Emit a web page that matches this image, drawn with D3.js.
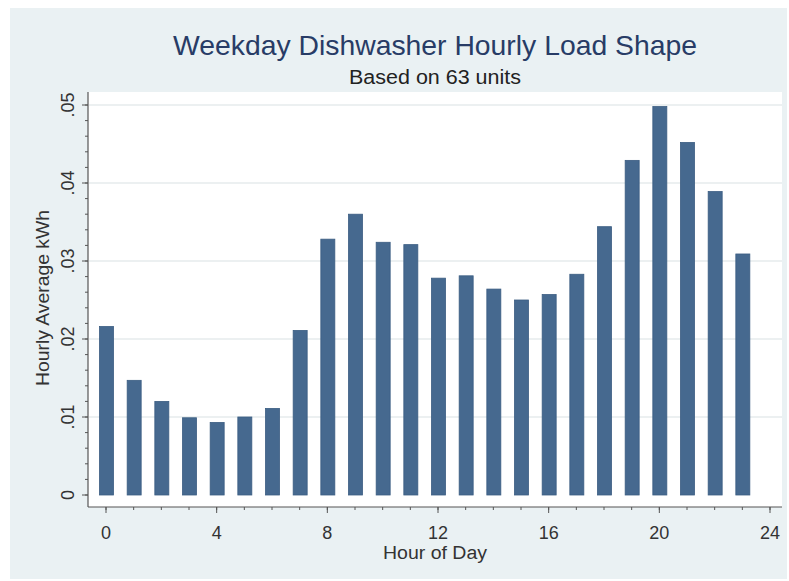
<!DOCTYPE html>
<html>
<head>
<meta charset="utf-8">
<script src="https://cdn.jsdelivr.net/npm/d3@7"></script>
<style>
  body { margin: 0; background: #fff; }
  svg { display: block; font-family: "Liberation Sans", Arial, sans-serif; }
</style>
</head>
<body>
<svg id="chart" width="789" height="581"></svg>
<script>
// hour of day and average kWh per hour
const hours = [0, 1, 2, 3, 4, 5, 6, 7, 8, 9, 10, 11, 12, 13, 14, 15, 16, 17, 18, 19, 20, 21, 22, 23];
const kwh = [0.0216, 0.0147, 0.0120, 0.0099, 0.0093, 0.0100, 0.0111, 0.0211,
             0.0328, 0.0360, 0.0324, 0.0321, 0.0278, 0.0281, 0.0264, 0.0250,
             0.0257, 0.0283, 0.0344, 0.0429, 0.0498, 0.0452, 0.0389, 0.0309];
const xTicks = [0, 4, 8, 12, 16, 20, 24];
const yTicks = [0, 0.01, 0.02, 0.03, 0.04, 0.05];
const yTickLabels = ["0", ".01", ".02", ".03", ".04", ".05"];

const title = "Weekday Dishwasher Hourly Load Shape";
const subtitle = "Based on 63 units";
const xTitle = "Hour of Day";
const yTitle = "Hourly Average kWh";

const svg = d3.select("#chart");

// outer background
svg.append("rect")
    .attr("x", 10).attr("y", 8)
    .attr("width", 777).attr("height", 571)
    .attr("fill", "#eaf1f3");

// plot region
const plot = {left: 88, right: 782, top: 92, bottom: 507};
svg.append("rect")
    .attr("x", plot.left).attr("y", plot.top)
    .attr("width", plot.right - plot.left)
    .attr("height", plot.bottom - plot.top)
    .attr("fill", "#ffffff");

const x = d3.scaleLinear().domain([0, 24]).range([106, 770]);
const y = d3.scaleLinear().domain([0, 0.05]).range([495, 105]);

// grid lines
svg.append("g")
  .selectAll("line")
  .data(yTicks.slice(1))
  .join("line")
    .attr("x1", plot.left + 1).attr("x2", plot.right)
    .attr("y1", d => y(d)).attr("y2", d => y(d))
    .attr("stroke", "#e6ebec")
    .attr("stroke-width", 1.5);

// bars
const barW = 14;
svg.append("g")
  .selectAll("rect")
  .data(hours)
  .join("rect")
    .attr("x", (d) => x(d) - barW / 2 + 0.5)
    .attr("y", (d, i) => y(kwh[i]))
    .attr("width", barW)
    .attr("height", (d, i) => y(0) - y(kwh[i]))
    .attr("fill", "#46698f")
    .attr("stroke", "#3b5d82")
    .attr("stroke-width", 0.8);

// y axis
const yAxis = svg.append("g")
    .attr("transform", `translate(${plot.left},0)`);
yAxis.append("line")
    .attr("x1", 0).attr("x2", 0)
    .attr("y1", plot.top).attr("y2", plot.bottom)
    .attr("stroke", "#555").attr("stroke-width", 1.2);
yAxis.selectAll("line.minor")
  .data(d3.range(0, 0.0501, 0.002))
  .join("line")
    .attr("class", "minor")
    .attr("x1", -3).attr("x2", 0)
    .attr("y1", d => y(d)).attr("y2", d => y(d))
    .attr("stroke", "#555");
yAxis.selectAll("line.major")
  .data(yTicks)
  .join("line")
    .attr("class", "major")
    .attr("x1", -6).attr("x2", 0)
    .attr("y1", d => y(d)).attr("y2", d => y(d))
    .attr("stroke", "#555");
yAxis.selectAll("text")
  .data(yTicks)
  .join("text")
    .attr("transform", d => `translate(-14,${y(d)}) rotate(-90)`)
    .attr("text-anchor", "middle")
    .attr("font-size", 18)
    .attr("fill", "#333")
    .text((d, i) => yTickLabels[i]);

// x axis
const xAxis = svg.append("g")
    .attr("transform", `translate(0,${plot.bottom})`);
xAxis.append("line")
    .attr("x1", plot.left).attr("x2", plot.right)
    .attr("y1", 0).attr("y2", 0)
    .attr("stroke", "#555").attr("stroke-width", 1.2);
xAxis.selectAll("line.minor")
  .data(d3.range(0, 25, 1))
  .join("line")
    .attr("class", "minor")
    .attr("x1", d => x(d)).attr("x2", d => x(d))
    .attr("y1", 0).attr("y2", 3)
    .attr("stroke", "#555");
xAxis.selectAll("line.major")
  .data(xTicks)
  .join("line")
    .attr("class", "major")
    .attr("x1", d => x(d)).attr("x2", d => x(d))
    .attr("y1", 0).attr("y2", 6)
    .attr("stroke", "#555");
xAxis.selectAll("text")
  .data(xTicks)
  .join("text")
    .attr("x", d => x(d))
    .attr("y", 32)
    .attr("text-anchor", "middle")
    .attr("font-size", 18)
    .attr("fill", "#333")
    .text(d => d);

// titles
svg.append("text")
    .attr("x", 435).attr("y", 55)
    .attr("text-anchor", "middle")
    .attr("font-size", 28)
    .attr("fill", "#283c66")
    .attr("textLength", 524)
    .attr("lengthAdjust", "spacingAndGlyphs")
    .text(title);

svg.append("text")
    .attr("x", 435).attr("y", 84)
    .attr("text-anchor", "middle")
    .attr("font-size", 20)
    .attr("fill", "#222")
    .attr("textLength", 172)
    .attr("lengthAdjust", "spacingAndGlyphs")
    .text(subtitle);

svg.append("text")
    .attr("x", 435).attr("y", 559)
    .attr("text-anchor", "middle")
    .attr("font-size", 18)
    .attr("fill", "#333")
    .attr("textLength", 104)
    .attr("lengthAdjust", "spacingAndGlyphs")
    .text(xTitle);

svg.append("text")
    .attr("transform", "translate(49,298) rotate(-90)")
    .attr("text-anchor", "middle")
    .attr("font-size", 18)
    .attr("fill", "#333")
    .attr("textLength", 176)
    .attr("lengthAdjust", "spacingAndGlyphs")
    .text(yTitle);
</script>
</body>
</html>
